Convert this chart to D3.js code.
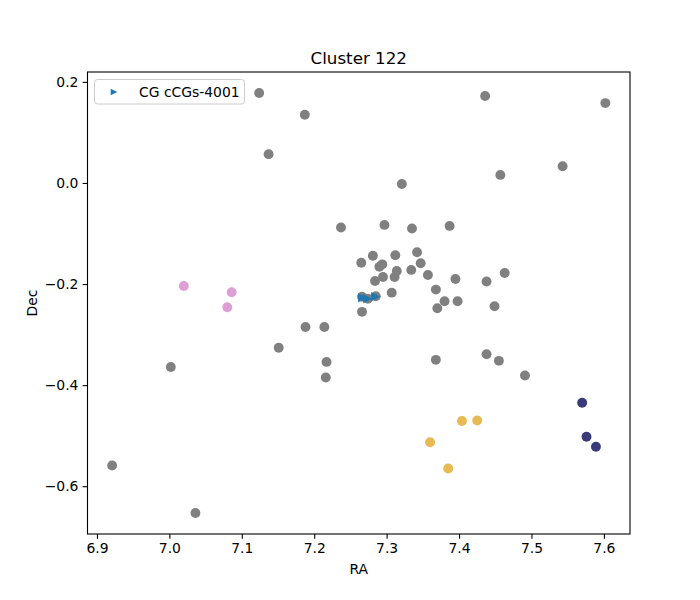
<!DOCTYPE html>
<html>
<head>
<meta charset="utf-8">
<script src="https://cdn.jsdelivr.net/npm/d3@7"></script>
<style>
  body { margin: 0; background: #fff; }
  svg { font-family: "DejaVu Sans", sans-serif; }
</style>
</head>
<body>
<svg id="chart" width="700" height="600"></svg>
<script>
// ---- data ----
const title = "Cluster 122";
const xLabel = "RA";
const yLabel = "Dec";
const legendLabel = "CG cCGs-4001";

const xTicks = [6.9, 7.0, 7.1, 7.2, 7.3, 7.4, 7.5, 7.6];
const xTickLabels = ["6.9", "7.0", "7.1", "7.2", "7.3", "7.4", "7.5", "7.6"];
const yTicks = [-0.6, -0.4, -0.2, 0.0, 0.2];
const yTickLabels = ["\u22120.6", "\u22120.4", "\u22120.2", "0.0", "0.2"];

// non-member galaxies (gray)
const grayPoints = [
  [7.124, 0.178], [7.187, 0.135], [7.137, 0.057], [7.237, -0.088],
  [7.436, 0.172], [7.602, 0.158], [7.543, 0.033], [7.457, 0.016],
  [7.321, -0.002], [7.297, -0.083], [7.335, -0.090], [7.387, -0.085],
  [7.342, -0.137], [7.265, -0.158], [7.281, -0.144], [7.312, -0.143],
  [7.290, -0.166], [7.294, -0.161], [7.347, -0.159], [7.334, -0.172],
  [7.314, -0.174], [7.311, -0.186], [7.295, -0.186], [7.284, -0.194],
  [7.357, -0.182], [7.395, -0.190], [7.463, -0.178], [7.438, -0.195],
  [7.307, -0.217], [7.368, -0.211], [7.380, -0.234], [7.398, -0.234],
  [7.370, -0.248], [7.449, -0.244], [7.266, -0.255], [7.266, -0.225],
  [7.274, -0.229], [7.285, -0.224], [7.368, -0.350], [7.438, -0.339],
  [7.455, -0.352], [7.491, -0.381], [7.188, -0.285], [7.214, -0.285],
  [7.151, -0.326], [7.217, -0.354], [7.216, -0.385], [7.002, -0.364],
  [6.921, -0.559], [7.036, -0.653]
];
const pinkPoints = [[7.020, -0.204], [7.086, -0.216], [7.080, -0.246]];
const yellowPoints = [[7.404, -0.471], [7.425, -0.470], [7.360, -0.513], [7.385, -0.565]];
const navyPoints = [[7.570, -0.435], [7.576, -0.502], [7.589, -0.522]];
const cgPoints = [[7.267, -0.227], [7.274, -0.229], [7.285, -0.225]];

const groups = [
  { pts: grayPoints, color: "#808080" },
  { pts: pinkPoints, color: "#de9ed6" },
  { pts: yellowPoints, color: "#e7ba52" },
  { pts: navyPoints, color: "#393b79" }
];

// ---- layout ----
const svg = d3.select("#chart");
const L = 87.5, R = 630, T = 72, B = 534;

const all = grayPoints.concat(pinkPoints, yellowPoints, navyPoints, cgPoints);
const xe = d3.extent(all, d => d[0]);
const ye = d3.extent(all, d => d[1]);
const xm = (xe[1] - xe[0]) * 0.05, ym = (ye[1] - ye[0]) * 0.05;

const x = d3.scaleLinear().domain([xe[0] - xm, xe[1] + xm]).range([L, R]);
const y = d3.scaleLinear().domain([ye[0] - ym, ye[1] + ym]).range([B, T]);

const plot = svg.append("g");

groups.forEach(g => {
  plot.selectAll(null).data(g.pts).enter().append("circle")
    .attr("cx", d => x(d[0])).attr("cy", d => y(d[1]))
    .attr("r", 4.95).attr("fill", g.color);
});

const triSize = 4.6;
function triPath(cx, cy, s) {
  return `M${cx + s},${cy} L${cx - s},${cy - s} L${cx - s},${cy + s} Z`;
}
plot.selectAll(null).data(cgPoints).enter().append("path")
  .attr("d", d => triPath(x(d[0]), y(d[1]), triSize))
  .attr("fill", "#1f77b4");

// axes
const xAxis = d3.axisBottom(x).tickValues(xTicks)
  .tickFormat((d, i) => xTickLabels[i]).tickSize(4.86).tickPadding(4.2);
const yAxis = d3.axisLeft(y).tickValues(yTicks)
  .tickFormat((d, i) => yTickLabels[i]).tickSize(4.86).tickPadding(4.2);

const gx = svg.append("g").attr("transform", `translate(0,${B})`).call(xAxis);
const gy = svg.append("g").attr("transform", `translate(${L},0)`).call(yAxis);
[gx, gy].forEach(g => {
  g.select(".domain").remove();
  g.selectAll("line").attr("stroke", "#000").attr("stroke-width", 1.1);
  g.selectAll("text").attr("font-size", "13.9px").attr("fill", "#000")
    .attr("font-family", "DejaVu Sans, sans-serif");
});

// spines
svg.append("rect").attr("x", L).attr("y", T).attr("width", R - L).attr("height", B - T)
  .attr("fill", "none").attr("stroke", "#000").attr("stroke-width", 1.1);

// title & labels
svg.append("text").attr("x", (L + R) / 2).attr("y", 63.7).attr("text-anchor", "middle")
  .attr("font-size", "16.7px").text(title);
svg.append("text").attr("x", (L + R) / 2).attr("y", 574).attr("text-anchor", "middle")
  .attr("font-size", "13.9px").text(xLabel);
svg.append("text").attr("transform", `translate(36.5,${(T + B) / 2}) rotate(-90)`)
  .attr("text-anchor", "middle").attr("font-size", "13.9px").text(yLabel);

// legend
const lg = svg.append("g");
lg.append("rect").attr("x", 94.5).attr("y", 79.5).attr("width", 150).attr("height", 24.5)
  .attr("rx", 3).attr("fill", "#fff").attr("fill-opacity", 0.8)
  .attr("stroke", "#cccccc").attr("stroke-width", 1);
lg.append("path").attr("d", triPath(114, 92, 3.3)).attr("fill", "#1f77b4");
lg.append("text").attr("x", 139).attr("y", 96.8).attr("font-size", "13.9px").text(legendLabel);
</script>
</body>
</html>
